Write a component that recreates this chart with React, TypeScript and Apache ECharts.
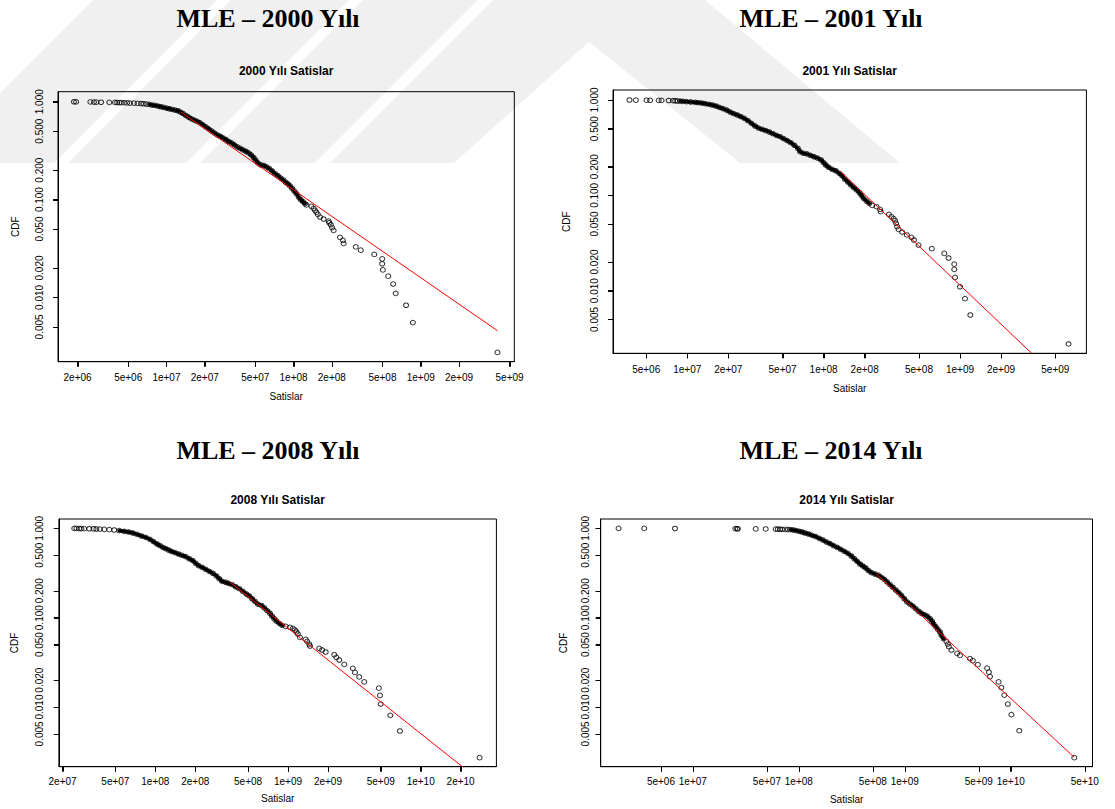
import React, { useEffect, useRef } from 'react';
import * as echarts from 'echarts';

// ---------- data ----------
// 2000
const sales2000 = [
  1.873e6, 1.947e6, 2.522e6, 2.690e6, 2.814e6, 3.062e6, 3.553e6, 3.940e6, 4.097e6, 4.258e6,
  4.427e6, 4.661e6, 4.909e6, 5.170e6, 5.551e6, 5.923e6, 6.318e6, 6.610e6, 6.961e6, 7.331e6,
  7.719e6, 8.130e6, 8.563e6, 9.018e6, 9.495e6, 1.000e7, 1.053e7, 1.109e7, 1.168e7, 1.230e7,
  1.287e7, 1.346e7, 1.418e7, 1.494e7, 1.573e7, 1.656e7, 1.744e7, 1.837e7, 1.934e7, 2.037e7,
  2.145e7, 2.259e7, 2.379e7, 2.506e7, 2.638e7, 2.778e7, 2.926e7, 3.081e7, 3.245e7, 3.417e7,
  3.599e7, 3.790e7, 3.991e7, 4.203e7, 4.426e7, 4.631e7, 4.846e7, 5.037e7, 5.237e7, 5.515e7,
  5.808e7, 6.116e7, 6.442e7, 6.783e7, 7.144e7, 7.523e7, 7.923e7, 8.342e7, 8.673e7, 9.018e7,
  9.374e7, 9.745e7, 1.013e8, 1.053e8, 1.095e8, 1.138e8, 1.183e8, 1.230e8, 1.262e8, 1.382e8,
  1.437e8, 1.474e8, 1.513e8, 1.552e8, 1.614e8, 1.722e8, 1.885e8, 1.910e8, 1.960e8, 2.011e8,
  2.064e8, 2.319e8, 2.442e8, 2.474e8, 3.083e8, 3.374e8, 4.313e8, 4.975e8, 4.975e8, 5.039e8,
  5.550e8, 6.075e8, 6.357e8, 7.671e8, 8.675e8, 4.017e9,
];
const cdf2000 = [
  1.000, 0.997, 0.995, 0.992, 0.990, 0.988, 0.986, 0.984, 0.982, 0.980,
  0.978, 0.977, 0.975, 0.969, 0.967, 0.961, 0.959, 0.954, 0.946, 0.939,
  0.924, 0.917, 0.903, 0.889, 0.875, 0.861, 0.848, 0.834, 0.821, 0.809,
  0.784, 0.760, 0.724, 0.696, 0.669, 0.649, 0.629, 0.609, 0.581, 0.554,
  0.529, 0.504, 0.481, 0.459, 0.445, 0.428, 0.411, 0.392, 0.380, 0.363,
  0.346, 0.335, 0.322, 0.312, 0.300, 0.286, 0.269, 0.253, 0.237, 0.226,
  0.223, 0.216, 0.207, 0.196, 0.184, 0.176, 0.166, 0.158, 0.150, 0.145,
  0.138, 0.130, 0.122, 0.115, 0.106, 0.0998, 0.0953, 0.0908, 0.0881, 0.0853,
  0.0814, 0.0776, 0.0741, 0.0706, 0.0663, 0.0633, 0.0603, 0.0580, 0.0553, 0.0516,
  0.0484, 0.0411, 0.0383, 0.0356, 0.0329, 0.0304, 0.0275, 0.0248, 0.0221, 0.0191,
  0.0165, 0.0137, 0.0110, 0.00832, 0.00553, 0.00274,
];
const fitSales2000 = [1.287e7, 4.017e9];
const fitCdf2000 = [0.790, 0.00457];

// 2001
const sales2001 = [
  3.77e6, 4.20e6, 5.03e6, 5.34e6, 6.17e6, 6.48e6, 7.31e6, 7.86e6, 8.15e6, 8.45e6,
  8.86e6, 9.30e6, 9.88e6, 1.062e7, 1.142e7, 1.198e7, 1.273e7, 1.352e7, 1.436e7, 1.525e7,
  1.620e7, 1.720e7, 1.827e7, 1.941e7, 2.061e7, 2.189e7, 2.325e7, 2.470e7, 2.623e7, 2.786e7,
  2.959e7, 3.143e7, 3.338e7, 3.545e7, 3.766e7, 4.000e7, 4.248e7, 4.512e7, 4.793e7, 5.091e7,
  5.408e7, 5.743e7, 6.100e7, 6.479e7, 6.719e7, 7.094e7, 7.534e7, 8.000e7, 8.498e7, 9.026e7,
  9.588e7, 1.000e8, 1.037e8, 1.088e8, 1.156e8, 1.227e8, 1.304e8, 1.368e8, 1.436e8, 1.507e8,
  1.581e8, 1.659e8, 1.741e8, 1.827e8, 1.894e8, 1.964e8, 2.062e8, 2.163e8, 2.270e8, 2.440e8,
  2.592e8, 2.623e8, 3.014e8, 3.144e8, 3.260e8, 3.339e8, 3.400e8, 3.462e8, 3.546e8, 3.766e8,
  4.073e8, 4.406e8, 4.596e8, 4.970e8, 6.212e8, 7.670e8, 8.246e8, 9.082e8, 9.082e8, 9.193e8,
  1.000e9, 1.088e9, 1.191e9, 6.250e9,
];
const cdf2001 = [
  1.000, 0.997, 0.995, 0.993, 0.992, 0.990, 0.988, 0.984, 0.982, 0.976,
  0.975, 0.968, 0.961, 0.953, 0.945, 0.938, 0.930, 0.915, 0.901, 0.886,
  0.865, 0.838, 0.811, 0.785, 0.748, 0.719, 0.696, 0.669, 0.642, 0.607,
  0.569, 0.534, 0.508, 0.492, 0.477, 0.462, 0.443, 0.426, 0.412, 0.393,
  0.375, 0.357, 0.335, 0.311, 0.287, 0.276, 0.272, 0.263, 0.254, 0.246,
  0.235, 0.220, 0.208, 0.197, 0.187, 0.181, 0.170, 0.160, 0.147, 0.138,
  0.129, 0.121, 0.114, 0.107, 0.100, 0.0930, 0.0872, 0.0824, 0.0785, 0.0760,
  0.0713, 0.0674, 0.0632, 0.0597, 0.0569, 0.0542, 0.0508, 0.0469, 0.0440, 0.0412,
  0.0384, 0.0363, 0.0340, 0.0301, 0.0276, 0.0246, 0.0220, 0.0190, 0.0167, 0.0138,
  0.0110, 0.00824, 0.00556, 0.00276,
];
const fitSales2001 = [1.336e8, 6.32e9];
const fitCdf2001 = [0.177, 0.00093];

// 2008
const sales2008 = [
  2.449e7, 2.542e7, 2.671e7, 2.772e7, 2.913e7, 3.177e7, 3.422e7, 3.596e7, 3.825e7, 4.122e7,
  4.497e7, 4.902e7, 5.348e7, 5.833e7, 6.284e7, 6.768e7, 7.290e7, 7.852e7, 8.459e7, 9.112e7,
  9.694e7, 1.031e8, 1.084e8, 1.139e8, 1.197e8, 1.258e8, 1.322e8, 1.406e8, 1.496e8, 1.592e8,
  1.694e8, 1.802e8, 1.917e8, 2.015e8, 2.117e8, 2.252e8, 2.396e8, 2.550e8, 2.713e8, 2.886e8,
  3.033e8, 3.187e8, 3.391e8, 3.563e8, 3.791e8, 4.034e8, 4.291e8, 4.566e8, 4.858e8, 5.105e8,
  5.364e8, 5.636e8, 5.923e8, 6.302e8, 6.622e8, 6.958e8, 7.312e8, 7.589e8, 7.877e8, 8.175e8,
  8.590e8, 9.028e8, 9.605e8, 1.035e9, 1.087e9, 1.128e9, 1.157e9, 1.186e9, 1.231e9, 1.359e9,
  1.393e9, 1.446e9, 1.464e9, 1.720e9, 1.807e9, 1.923e9, 2.232e9, 2.316e9, 2.434e9, 2.655e9,
  3.081e9, 3.197e9, 3.443e9, 3.755e9, 4.842e9, 4.933e9, 4.994e9, 5.904e9, 6.980e9, 2.781e10,
];
const cdf2008 = [
  1.000, 0.998, 0.996, 0.994, 0.991, 0.990, 0.989, 0.983, 0.982, 0.974,
  0.966, 0.958, 0.942, 0.926, 0.910, 0.887, 0.857, 0.821, 0.793, 0.753,
  0.709, 0.668, 0.640, 0.613, 0.592, 0.572, 0.553, 0.534, 0.516, 0.498,
  0.482, 0.457, 0.435, 0.406, 0.382, 0.366, 0.348, 0.330, 0.314, 0.293,
  0.273, 0.255, 0.249, 0.242, 0.234, 0.222, 0.211, 0.197, 0.184, 0.175,
  0.163, 0.152, 0.142, 0.137, 0.129, 0.120, 0.112, 0.104, 0.0975, 0.0918,
  0.0864, 0.0821, 0.0800, 0.0779, 0.0760, 0.0728, 0.0691, 0.0657, 0.0602, 0.0572,
  0.0543, 0.0507, 0.0482, 0.0454, 0.0435, 0.0413, 0.0385, 0.0360, 0.0336, 0.0300,
  0.0271, 0.0244, 0.0217, 0.0191, 0.0163, 0.0135, 0.0108, 0.00807, 0.00539, 0.00271,
];
const fitSales2008 = [3.67e8, 2.78e10];
const fitCdf2008 = [0.249, 0.00151];

// 2014
const sales2014 = [
  1.991e6, 3.479e6, 6.783e6, 2.518e7, 2.618e7, 2.659e7, 3.919e7, 4.870e7, 6.052e7, 6.341e7,
  6.643e7, 6.959e7, 7.405e7, 7.879e7, 8.385e7, 8.923e7, 9.493e7, 1.010e8, 1.075e8, 1.144e8,
  1.236e8, 1.336e8, 1.444e8, 1.560e8, 1.686e8, 1.822e8, 1.969e8, 2.128e8, 2.299e8, 2.485e8,
  2.685e8, 2.902e8, 3.136e8, 3.337e8, 3.551e8, 3.778e8, 4.020e8, 4.279e8, 4.552e8, 4.843e8,
  5.236e8, 5.656e8, 6.020e8, 6.405e8, 6.816e8, 7.253e8, 7.716e8, 8.211e8, 8.737e8, 9.297e8,
  9.892e8, 1.052e9, 1.120e9, 1.192e9, 1.268e9, 1.349e9, 1.436e9, 1.528e9, 1.626e9, 1.729e9,
  1.812e9, 1.869e9, 1.958e9, 2.051e9, 2.149e9, 2.217e9, 2.323e9, 2.472e9, 2.550e9, 2.610e9,
  2.755e9, 3.120e9, 3.319e9, 4.125e9, 4.389e9, 4.893e9, 5.987e9, 6.225e9, 6.372e9, 7.675e9,
  8.166e9, 8.690e9, 9.392e9, 1.015e10, 1.204e10, 3.978e10,
];
const cdf2014 = [
  1.000, 0.998, 0.995, 0.993, 0.990, 0.988, 0.986, 0.984, 0.981, 0.979,
  0.977, 0.975, 0.972, 0.970, 0.966, 0.958, 0.942, 0.926, 0.910, 0.887,
  0.864, 0.835, 0.807, 0.773, 0.740, 0.703, 0.674, 0.640, 0.613, 0.582,
  0.553, 0.525, 0.490, 0.457, 0.427, 0.399, 0.379, 0.360, 0.336, 0.319,
  0.308, 0.298, 0.283, 0.269, 0.251, 0.234, 0.219, 0.204, 0.191, 0.178,
  0.163, 0.150, 0.142, 0.135, 0.126, 0.118, 0.112, 0.108, 0.104, 0.0975,
  0.0910, 0.0849, 0.0793, 0.0740, 0.0691, 0.0634, 0.0582, 0.0543, 0.0507, 0.0474,
  0.0435, 0.0399, 0.0379, 0.0348, 0.0330, 0.0298, 0.0273, 0.0246, 0.0219, 0.0191,
  0.0165, 0.0136, 0.0108, 0.00821, 0.00543, 0.00271,
];
const fitSales2014 = [5.40e8, 3.98e10];
const fitCdf2014 = [0.308, 0.00273];

// tick labels
const yTicks = [0.005, 0.01, 0.02, 0.05, 0.1, 0.2, 0.5, 1];
const xTicks2000 = [2e6, 5e6, 1e7, 2e7, 5e7, 1e8, 2e8, 5e8, 1e9, 2e9, 5e9];
const xTicks2001 = [5e6, 1e7, 2e7, 5e7, 1e8, 2e8, 5e8, 1e9, 2e9, 5e9];
const xTicks2008 = [2e7, 5e7, 1e8, 2e8, 5e8, 1e9, 2e9, 5e9, 1e10, 2e10];
const xTicks2014 = [5e6, 1e7, 5e7, 1e8, 5e8, 1e9, 5e9, 1e10, 5e10];

const titles = ['MLE – 2000 Yılı', 'MLE – 2001 Yılı', 'MLE – 2008 Yılı', 'MLE – 2014 Yılı'];
const subtitles = ['2000 Yılı Satislar', '2001 Yılı Satislar', '2008 Yılı Satislar', '2014 Yılı Satislar'];
const xName = 'Satislar';
const yName = 'CDF';

// ---------- layout ----------
const SANS = "'Liberation Sans', Arial, Helvetica, sans-serif";
const SERIF = "'Liberation Serif', 'Times New Roman', Times, serif";

function rSci(t: number): string {
  let e = Math.floor(Math.log10(t) + 1e-9);
  let m = Math.round(t / Math.pow(10, e));
  if (m >= 10) { m = m / 10; e += 1; }
  return `${m}e+${String(e).padStart(2, '0')}`;
}

// xr / yr: visible log10 range of each panel. Coordinates are measured from the lower-left
// corner of each box (log10 value minus the range start).
const panels = [
  { sales: sales2000, cdf: cdf2000, fitS: fitSales2000, fitC: fitCdf2000, xTicks: xTicks2000, solid: [19, 77],
    box: [58, 91.7, 514.3, 361.7], xr: [6.147, 9.736], yr: [-2.657, 0.1025],
    titleX: 268, titleY: 18, subY: 70.5, xMargin: 11, yMargin: 14, xGap: 30, yGap: 38 },
  { sales: sales2001, cdf: cdf2001, fitS: fitSales2001, fitC: fitCdf2001, xTicks: xTicks2001, solid: [10, 67],
    box: [613, 90, 1086.4, 353.3], xr: [6.4555, 9.927], yr: [-2.657, 0.1049],
    titleX: 831, titleY: 18, subY: 70.5, xMargin: 11, yMargin: 13.5, xGap: 30, yGap: 42 },
  { sales: sales2008, cdf: cdf2008, fitS: fitSales2008, fitC: fitCdf2008, xTicks: xTicks2008, solid: [12, 61],
    box: [58.9, 519, 496.4, 766.7], xr: [7.2732, 10.5707], yr: [-2.668, 0.1045],
    titleX: 268, titleY: 450, subY: 500, xMargin: 9.5, yMargin: 14.5, xGap: 27, yGap: 39.5 },
  { sales: sales2014, cdf: cdf2014, fitS: fitSales2014, fitC: fitCdf2014, xTicks: xTicks2014, solid: [14, 66],
    box: [600.7, 519, 1092.5, 766.7], xr: [6.1304, 10.7715], yr: [-2.668, 0.1045],
    titleX: 831, titleY: 450, subY: 500, xMargin: 9.5, yMargin: 10, xGap: 28, yGap: 32 },
];

// faint background watermark (decoration)
const watermark: number[][][] = [
  [[-70, 163], [54, 163], [217, 0], [93, 0]],
  [[68, 163], [186, 163], [349, 0], [231, 0]],
  [[200, 163], [315, 163], [478, 0], [363, 0]],
  [[330, 163], [493, 0], [705, 0], [900, 163], [740, 163], [589, 42], [454, 163]],
];

const TICK_LEN = 5;

function buildOption(): any {
  const grid = panels.map((p) => ({
    left: p.box[0], top: p.box[1], width: p.box[2] - p.box[0], height: p.box[3] - p.box[1],
    show: true, borderColor: '#000', borderWidth: 1, backgroundColor: 'transparent', containLabel: false,
  }));
  const xAxis = panels.map((p, i) => {
    const x0 = p.xr[0];
    const tv = p.xTicks.map((t) => Math.log10(t) - x0);
    return {
      type: 'value', gridIndex: i, min: 0, max: p.xr[1] - x0,
      splitLine: { show: false },
      axisLine: { show: true, onZero: true, lineStyle: { color: '#000', width: 1 } },
      axisTick: { show: true, inside: false, length: TICK_LEN, customValues: tv, lineStyle: { color: '#000', width: 1 } },
      axisLabel: {
        show: true, customValues: tv, margin: p.xMargin, color: '#000', fontSize: 10, fontFamily: SANS,
        formatter: (v: number) => {
          let best = p.xTicks[0];
          for (const t of p.xTicks) if (Math.abs(Math.log10(t) - x0 - v) < Math.abs(Math.log10(best) - x0 - v)) best = t;
          return rSci(best);
        },
      },
      name: xName, nameLocation: 'middle', nameGap: p.xGap,
      nameTextStyle: { color: '#000', fontSize: 10, fontFamily: SANS },
    };
  });
  const yAxis = panels.map((p, i) => {
    const y0 = p.yr[0];
    const tv = yTicks.map((t) => Math.log10(t) - y0);
    return {
      type: 'value', gridIndex: i, min: 0, max: p.yr[1] - y0,
      splitLine: { show: false },
      axisLine: { show: true, onZero: true, lineStyle: { color: '#000', width: 1 } },
      axisTick: { show: true, inside: false, length: TICK_LEN, customValues: tv, lineStyle: { color: '#000', width: 1 } },
      axisLabel: {
        show: true, customValues: tv, rotate: 90, margin: p.yMargin, color: '#000', fontSize: 10, fontFamily: SANS,
        formatter: (v: number) => Math.pow(10, v + y0).toFixed(3),
      },
      name: yName, nameLocation: 'middle', nameGap: p.yGap,
      nameTextStyle: { color: '#000', fontSize: 10, fontFamily: SANS },
    };
  });
  const series: any[] = [];
  panels.forEach((p, i) => {
    const x0 = p.xr[0];
    const y0 = p.yr[0];
    const pts = p.sales.map((s, k) => [Math.log10(s) - x0, Math.log10(p.cdf[k]) - y0]);
    series.push({
      type: 'line', xAxisIndex: i, yAxisIndex: i, silent: true, z: 2,
      data: pts.slice(p.solid[0], p.solid[1] + 1),
      symbol: 'none', showSymbol: false, lineStyle: { color: '#000', width: 3.5, join: 'round', cap: 'round' },
    });
    series.push({
      type: 'scatter', xAxisIndex: i, yAxisIndex: i, silent: true, z: 2,
      data: pts,
      symbol: 'circle', symbolSize: [5, 4.6],
      itemStyle: { color: 'rgba(0,0,0,0)', borderColor: '#000', borderWidth: 1 },
    });
    series.push({
      type: 'line', xAxisIndex: i, yAxisIndex: i, silent: true, z: 3,
      data: p.fitS.map((s, k) => [Math.log10(s) - x0, Math.log10(p.fitC[k]) - y0]),
      symbol: 'none', showSymbol: false, lineStyle: { color: '#ff0000', width: 1 },
    });
  });
  const graphic: any[] = [];
  watermark.forEach((pts) => {
    graphic.push({ type: 'polygon', z: -10, silent: true, shape: { points: pts }, style: { fill: 'rgba(0,0,0,0.06)' } });
  });
  panels.forEach((p, i) => {
    graphic.push({
      type: 'text', x: p.titleX, y: p.titleY, silent: true,
      style: { text: titles[i], fontFamily: SERIF, fontSize: 26, fontWeight: 'bold', fill: '#000', textAlign: 'center', textVerticalAlign: 'middle', verticalAlign: 'middle' },
    });
    graphic.push({
      type: 'text', x: (p.box[0] + p.box[2]) / 2, y: p.subY, silent: true,
      style: { text: subtitles[i], fontFamily: SANS, fontSize: 12, fontWeight: 'bold', fill: '#000', textAlign: 'center', textVerticalAlign: 'middle', verticalAlign: 'middle' },
    });
  });
  return { animation: false, backgroundColor: '#fff', grid, xAxis, yAxis, series, graphic };
}

// outward tick marks, positioned through each grid's own scales
function buildTickGraphics(chart: any): any[] {
  const out: any[] = [];
  panels.forEach((p, i) => {
    p.xTicks.forEach((t) => {
      const pt = chart.convertToPixel({ gridIndex: i }, [Math.log10(t) - p.xr[0], 0]);
      if (!pt || !isFinite(pt[0]) || !isFinite(pt[1])) return;
      const x = Math.round(pt[0]) + 0.5;
      out.push({ type: 'line', silent: true, z: 20, shape: { x1: x, y1: pt[1], x2: x, y2: pt[1] + TICK_LEN }, style: { stroke: '#000', lineWidth: 1 } });
    });
    yTicks.forEach((t) => {
      const pt = chart.convertToPixel({ gridIndex: i }, [0, Math.log10(t) - p.yr[0]]);
      if (!pt || !isFinite(pt[0]) || !isFinite(pt[1])) return;
      const y = Math.round(pt[1]) + 0.5;
      out.push({ type: 'line', silent: true, z: 20, shape: { x1: pt[0] - TICK_LEN, y1: y, x2: pt[0], y2: y }, style: { stroke: '#000', lineWidth: 1 } });
    });
  });
  return out;
}

export default function App() {
  const ref = useRef<HTMLDivElement>(null);
  useEffect(() => {
    const chart = echarts.init(ref.current as HTMLDivElement, null, { renderer: 'svg', width: 1115, height: 809 });
    const option = buildOption();
    chart.setOption(option);
    try {
      const ticks = buildTickGraphics(chart);
      chart.setOption({ graphic: [...option.graphic, ...ticks] });
    } catch (e) {
      // keep the chart as it is if pixel conversion is unavailable
    }
    return () => chart.dispose();
  }, []);
  return <div ref={ref} style={{ position: 'fixed', left: 0, top: 0, width: 1115, height: 809, background: '#fff' }} />;
}
